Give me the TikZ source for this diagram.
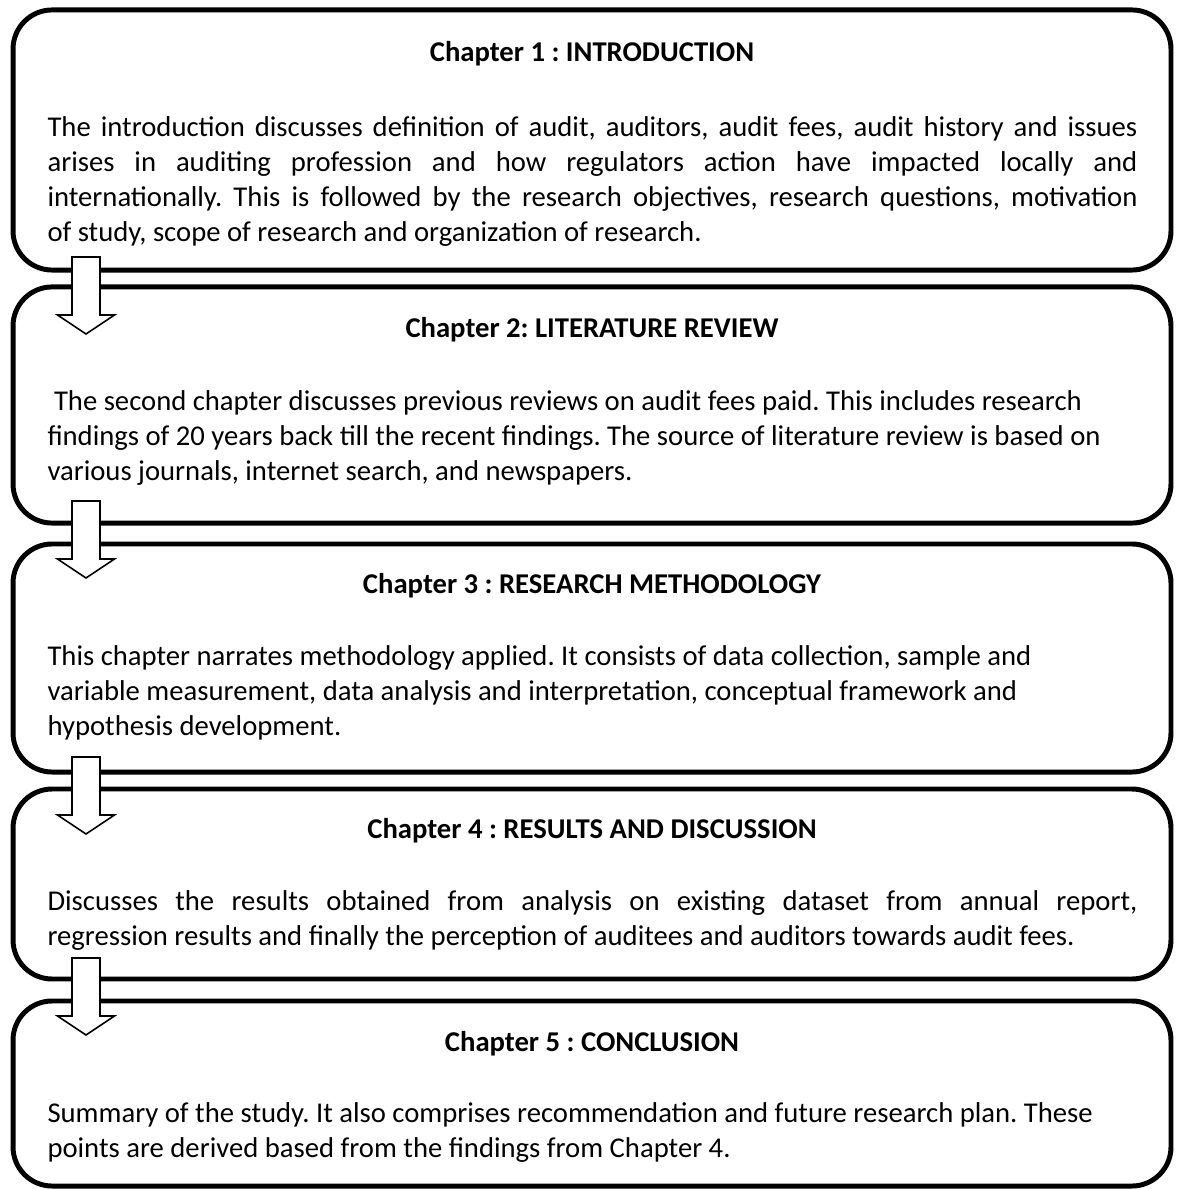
\documentclass[tikz,border=0pt]{standalone}
\usepackage{fontspec}
\setmainfont{Carlito}
\setlength{\parindent}{0pt}
\frenchspacing
\tikzset{%
    every node/.style={font=\fontsize{11}{13.43}\selectfont},
    chapbox/.style={draw, line width=1.9pt, rounded corners=15pt, inner sep=0pt,
    	minimum width=444.3pt},
    chaptitle/.style={anchor=base, inner sep=0pt,
    	font=\fontsize{11}{13.43}\selectfont\bfseries},
    chaptext/.style={anchor=north west, inner sep=0pt, text width=426pt, align=flush left},
    fulltext/.style={chaptext, text width=418.2pt, align=justify},
    downarrow/.style={draw, fill=white, line width=0.6pt}
}

\begin{document}
\begin{tikzpicture}[x=0.3837pt, y=-0.3837pt]
  \useasboundingbox (0,0) rectangle (1178,1190);

  \node[chapbox, minimum height=99.8pt] (c1) at (592,140) {};
  \node[chapbox, minimum height=90.6pt] (c2) at (592,405) {};
  \node[chapbox, minimum height=87.5pt] (c3) at (592,658) {};
  \node[chapbox, minimum height=72.9pt] (c4) at (592,884) {};
  \node[chapbox, minimum height=71.0pt] (c5) at (592,1093.5) {};

  \node[chaptitle] (t1) at (592,62) {Chapter 1 : INTRODUCTION};
  \node[chaptitle] (t2) at (592,338) {Chapter 2: LITERATURE REVIEW};
  \node[chaptitle] (t3) at (592,593) {Chapter 3 : RESEARCH METHODOLOGY};
  \node[chaptitle] (t4) at (592,838) {Chapter 4 : RESULTS AND DISCUSSION};
  \node[chaptitle] (t5) at (592,1051) {Chapter 5 : CONCLUSION};

  \node[fulltext] (x1) at (47,111.5) {\strut The introduction discusses definition of audit, auditors, audit fees, audit history and issues
    \linebreak arises in auditing profession and how regulators action have impacted locally and
    \linebreak internationally. This is followed by the research objectives, research questions, motivation
    \linebreak of study, scope of research and organization of research.};
  \node[chaptext] (x2) at (47,385.5) {\strut\ The second chapter discusses previous reviews on audit fees paid. This includes research\\
    findings of 20 years back till the recent findings. The source of literature review is based on\\
    various journals, internet search, and newspapers.};
  \node[chaptext] (x3) at (47,640.5) {\strut This chapter narrates methodology applied. It consists of data collection, sample and\\
    variable measurement, data analysis and interpretation, conceptual framework and\\
    hypothesis development.};
  \node[fulltext] (x4) at (47,885.5) {\parfillskip=0pt\strut Discusses the results obtained from analysis on existing dataset from annual report,
    \linebreak regression results and finally the perception of auditees and auditors towards audit fees.};
  \node[chaptext] (x5) at (47,1097.5) {\strut Summary of the study. It also comprises recommendation and future research plan. These\\
    points are derived based from the findings from Chapter 4.};

  \coordinate (a1) at (86,257);
  \coordinate (a2) at (86,501);
  \coordinate (a3) at (86,757);
  \coordinate (a4) at (86,958);

  \draw[downarrow] (a1) ++(-14,0) -- ++(28,0) -- ++(0,58) -- ++(14.5,0)
    -- ++(-28.5,19) -- ++(-28.5,-19) -- ++(14.5,0) -- cycle;
  \draw[downarrow] (a2) ++(-14,0) -- ++(28,0) -- ++(0,58) -- ++(14.5,0)
    -- ++(-28.5,19) -- ++(-28.5,-19) -- ++(14.5,0) -- cycle;
  \draw[downarrow] (a3) ++(-14,0) -- ++(28,0) -- ++(0,58) -- ++(14.5,0)
    -- ++(-28.5,19) -- ++(-28.5,-19) -- ++(14.5,0) -- cycle;
  \draw[downarrow] (a4) ++(-14,0) -- ++(28,0) -- ++(0,58) -- ++(14.5,0)
    -- ++(-28.5,19) -- ++(-28.5,-19) -- ++(14.5,0) -- cycle;

\end{tikzpicture}
\end{document}
